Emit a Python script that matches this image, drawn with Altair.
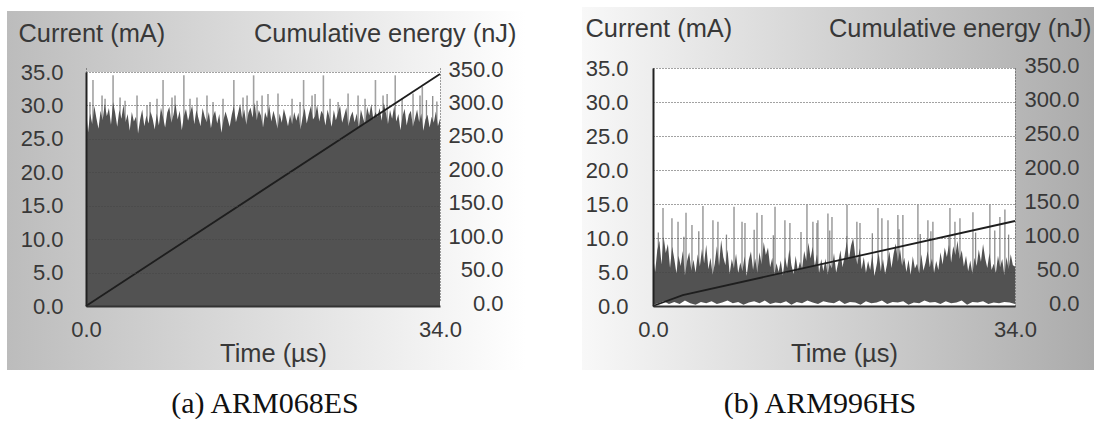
import altair as alt
import numpy as np
import pandas as pd

# ---------------- data ----------------
T_END = 34.0
current_ticks = [0, 5, 10, 15, 20, 25, 30, 35]
energy_ticks = [0, 50, 100, 150, 200, 250, 300, 350]
time_ticks = [0, 34]

# (a) ARM068ES : upper edge of the dense current trace (mA), 0.2 us apart
left_core = [
    29.5, 26.0, 28.8, 27.2, 29.9, 28.1, 26.5, 29.2, 27.8, 30.2,
    28.4, 29.6, 27.1, 30.5, 28.9, 26.8, 29.3, 28.0, 30.1, 27.5,
    28.7, 26.2, 29.0, 27.6, 28.3, 25.8, 27.9, 29.4, 26.9, 28.5,
    27.3, 29.1, 28.0, 26.4, 28.8, 27.0, 29.7, 28.2, 26.7, 28.9,
    29.8, 27.4, 28.6, 30.3, 27.9, 29.2, 26.3, 28.4, 29.5, 27.7,
    28.9, 30.0, 27.2, 29.3, 28.1, 26.9, 29.6, 28.3, 27.5, 29.0,
    26.6, 28.4, 29.2, 27.3, 28.7, 25.9, 27.8, 29.1, 28.0, 26.8,
    28.6, 29.9, 27.5, 28.8, 30.2, 28.0, 29.4, 27.1, 28.9, 29.7,
    28.2, 30.4, 27.8, 29.3, 28.5, 26.7, 29.0, 28.1, 30.0, 27.6,
    29.2, 28.0, 26.5, 28.8, 27.4, 29.5, 28.3, 26.9, 28.6, 27.2,
    29.0, 27.7, 28.9, 26.4, 28.2, 29.6, 27.3, 28.7, 29.9, 27.9,
    28.4, 30.1, 27.6, 29.2, 28.6, 27.0, 29.4, 28.1, 26.8, 29.3,
    27.8, 28.9, 30.0, 27.4, 28.5, 29.7, 26.9, 28.3, 29.1, 27.5,
    28.8, 26.6, 29.4, 28.2, 27.1, 29.8, 28.5, 30.2, 27.9, 29.0,
    28.3, 29.6, 27.7, 30.4, 28.9, 27.2, 29.3, 28.0, 29.9, 27.6,
    28.7, 26.3, 28.4, 29.5, 27.0, 28.6, 29.2, 26.8, 28.1, 29.4,
    27.5, 28.8, 26.2, 27.9, 28.6, 26.7, 28.3, 27.4, 29.1, 26.9,
    28.0,
]
left_tall_t = [0.67, 2.6, 7.4, 9.4, 14.2, 16.1, 20.9, 22.8, 27.8, 29.7, 32.3]
left_tall_h = [33.8, 34.5, 33.8, 34.5, 33.8, 34.5, 33.8, 34.5, 33.8, 34.5, 32.8]
left_mid_t = [0.38, 1.54, 1.83, 3.27, 3.75, 4.9, 5.86, 6.15, 6.82, 8.26, 8.55, 9.99,
              10.66, 11.62, 12.2, 13.16, 15.08, 15.47, 16.43, 16.91, 17.48, 18.44,
              19.79, 20.56, 21.71, 22.0, 23.44, 24.21, 25.17, 26.13, 26.8, 28.53,
              28.92, 30.36, 31.41, 32.08, 32.7, 33.3, 33.7]
left_mid_h = [30.5, 31.5, 31.0, 31.2, 30.7, 31.5, 30.0, 30.5, 31.0, 31.2, 31.5, 31.0,
              31.2, 31.5, 30.5, 31.0, 31.2, 31.5, 30.7, 31.5, 31.7, 31.8,
              31.0, 30.5, 31.5, 31.7, 31.0, 30.5, 31.8, 31.5, 31.0, 31.5,
              31.7, 31.0, 31.8, 31.5, 30.8, 31.4, 30.6]
left_energy_t = [0.0, 34.0]
left_energy_e = [0.0, 347.0]

# (b) ARM996HS
right_core = [
    7.5, 5.0, 8.2, 9.6, 6.1, 10.2, 7.8, 9.1, 5.6, 8.7,
    6.9, 4.8, 7.4, 5.9, 8.1, 4.5, 6.6, 7.9, 5.2, 6.8,
    4.9, 7.6, 5.8, 8.4, 6.3, 9.0, 5.4, 7.1, 4.6, 6.2,
    8.8, 5.9, 9.7, 7.2, 6.0, 8.3, 4.7, 6.9, 5.5, 7.7,
    4.8, 6.4, 5.1, 7.3, 4.4, 6.8, 8.0, 5.3, 7.0, 4.9,
    7.9, 6.1, 9.4, 7.5, 8.6, 5.7, 7.1, 4.6, 6.3, 5.0,
    6.7, 4.5, 7.2, 5.6, 8.3, 6.0, 4.7, 7.4, 5.2, 6.5,
    5.4, 8.1, 6.6, 9.3, 7.0, 8.7, 5.8, 7.6, 4.8, 6.9,
    5.1, 7.0, 4.6, 6.2, 5.5, 7.8, 4.9, 6.4, 8.2, 5.7,
    7.4, 9.5, 6.8, 8.9, 10.0, 7.3, 6.1, 8.5, 5.4, 7.2,
    4.9, 6.6, 5.3, 7.5, 4.4, 6.0, 7.8, 5.1, 6.9, 4.7,
    6.3, 8.0, 5.6, 7.7, 9.2, 6.5, 8.4, 5.9, 7.1, 5.0,
    6.8, 4.6, 7.3, 5.5, 6.2, 4.8, 7.6, 5.2, 6.4, 8.1,
    5.7, 7.0, 4.9, 6.6, 5.3, 7.9, 6.1, 8.6, 7.2, 9.0,
    6.4, 8.8, 7.5, 9.6, 6.9, 8.2, 5.8, 7.4, 5.1, 6.7,
    4.7, 7.1, 5.9, 8.3, 6.5, 9.1, 7.0, 5.6, 7.8, 5.3,
    6.2, 4.8, 7.4, 5.7, 6.9, 4.5, 7.2, 5.4, 7.6, 6.0,
    5.8,
]
right_floor = [
    0.2, 0.4, 0.7, 0.3, 0.6, 0.3, 0.8, 0.4, 0.2, 0.6, 0.4, 0.7, 0.3, 0.5,
    0.8, 0.4, 0.6, 0.2, 0.5, 0.7, 0.4, 0.8, 0.3, 0.5, 0.4, 0.7, 0.2, 0.6,
    0.4, 0.8, 0.5, 0.3, 0.7, 0.5, 0.4, 0.8, 0.3, 0.6, 0.5, 0.2, 0.7, 0.4,
    0.5, 0.8, 0.3, 0.6, 0.5, 0.7, 0.2, 0.5, 0.4, 0.8, 0.5, 0.6, 0.3, 0.7,
    0.4, 0.5, 0.8, 0.2, 0.6, 0.5, 0.7, 0.3, 0.5, 0.4, 0.6, 0.5, 0.3,
]
right_tall_t = [0.94, 4.69, 7.61, 11.46, 14.46, 18.22, 21.13, 24.88, 27.89, 31.64, 33.05]
right_tall_h = [14.4, 14.7, 14.6, 14.6, 14.9, 14.9, 14.4, 14.9, 14.4, 14.9, 14.2]
right_mid_t = [1.78, 2.35, 3.1, 3.66, 5.63, 6.1, 8.36, 8.64, 9.77, 10.23, 12.39, 12.86,
               15.02, 15.4, 15.49, 16.43, 16.81, 19.15, 19.44, 21.5, 22.07, 23.0,
               23.47, 25.82, 26.29, 28.36, 28.83, 30.05, 32.58,
               0.5, 2.9, 4.3, 6.9, 9.5, 11.3, 13.9, 16.6, 18.2, 20.6, 23.1,
               25.1, 26.1, 27.8, 30.3, 32.1, 33.4]
right_mid_h = [12.9, 12.4, 13.7, 11.9, 12.6, 12.4, 12.4, 12.2, 13.7, 13.4, 12.6, 12.2,
               12.4, 12.2, 12.6, 13.6, 13.1, 12.4, 12.2, 12.9, 12.6, 13.4,
               13.4, 12.6, 12.4, 12.4, 12.9, 13.8, 13.1,
               10.8, 10.2, 11.0, 10.5, 11.2, 10.4, 10.9, 11.1, 10.3, 10.7, 11.3,
               10.6, 11.0, 10.2, 10.8, 11.1, 10.5]
right_energy_t = [0.0, 2.8, 34.0]
right_energy_e = [0.0, 16.0, 125.0]

# ---------------- styling ----------------
FONT = "Liberation Sans"
TXT = "#383838"
LBL = 22
TTL = 25.4
one = pd.DataFrame({"k": [0]})
H = 238  # common group height; panel (a) draws its scale 4 px lower


def grad(c0, c1):
    return alt.LinearGradient(
        gradient="linear", x1=0, x2=1, y1=0, y2=0,
        stops=[alt.GradientStop(color=c0, offset=0), alt.GradientStop(color=c1, offset=1)],
    )


def panel(core, floor, tall_t, tall_h, mid_t, mid_h, en_t, en_e,
          W, top_off, box_l, box_r, box_t, colors, caption, cap_x, cap_y,
          ctitle_y, etitle_x, epad, lpad):
    rng = [H, top_off]
    xaxis = alt.Axis(values=time_ticks, format=".1f", title="Time (µs)",
                     labelFont=FONT, labelFontSize=LBL, labelColor=TXT, labelPadding=13,
                     labelFlush=False,
                     titleFont=FONT, titleFontSize=TTL, titleFontWeight="normal",
                     titleColor=TXT, titleY=47, titleX=W / 2 + 10, titleBaseline="middle",
                     ticks=False, tickSize=0, grid=True, gridColor="#444",
                     gridDash=[1, 2], gridWidth=1, domainColor="#333",
                     domainWidth=2, zindex=1)
    xs = alt.Scale(domain=[0, T_END], nice=False, zero=False)
    X = alt.X("t:Q", scale=xs, axis=xaxis)
    cs = alt.Scale(domain=[0, 35], nice=False, range=rng)

    bg = alt.Chart(one).mark_rect(color=grad(*colors)).encode(
        x=alt.value(box_l), x2=alt.value(W + box_r),
        y=alt.value(box_t), y2=alt.value(H + 64))
    plot_bg = alt.Chart(one).mark_rect(color="white").encode(
        x=alt.value(0), x2=alt.value(W), y=alt.value(top_off), y2=alt.value(H))

    mid = pd.DataFrame({"t": mid_t, "i": mid_h})
    tall = pd.DataFrame({"t": tall_t, "i": tall_h})
    mid_l = alt.Chart(mid).mark_rule(color="#8c8c8c", strokeWidth=1.3).encode(
        x=X, y=alt.Y("i:Q", scale=cs, axis=None), y2=alt.datum(0))
    tall_l = alt.Chart(tall).mark_rule(color="#a2a2a2", strokeWidth=1.6).encode(
        x=X, y=alt.Y("i:Q", scale=cs, axis=None), y2=alt.datum(0))

    cdf = pd.DataFrame({"t": np.linspace(0, T_END, len(core)), "i": core})
    yaxis = alt.Axis(values=current_ticks, format=".1f", title="Current (mA)",
                     orient="left", labelFont=FONT, labelFontSize=LBL, labelColor=TXT,
                     labelPadding=lpad, titleFont=FONT, titleFontSize=TTL,
                     titleFontWeight="normal", titleColor=TXT, titleAngle=0,
                     titleAlign="left", titleBaseline="middle", titleX=-68,
                     titleY=ctitle_y,
                     ticks=False, tickSize=0, grid=True, gridColor="#444",
                     gridDash=[1, 2], gridWidth=1, domainColor="#222",
                     domainWidth=2, zindex=1)
    core_l = alt.Chart(cdf).mark_area(color="#525252", interpolate="linear").encode(
        x=X, y=alt.Y("i:Q", scale=cs, axis=yaxis))

    layers = [bg, plot_bg, tall_l, mid_l, core_l]
    if floor is not None:
        fdf = pd.DataFrame({"t": np.linspace(0, T_END, len(floor)), "i": floor})
        layers.append(alt.Chart(fdf).mark_area(color="white", interpolate="linear").encode(
            x=X, y=alt.Y("i:Q", scale=cs, axis=None)))

    edf = pd.DataFrame({"t": en_t, "e": en_e})
    eaxis = alt.Axis(values=energy_ticks, format=".1f", title="Cumulative energy (nJ)",
                     orient="right", labelFont=FONT, labelFontSize=LBL, labelColor=TXT,
                     labelAlign="right", labelPadding=epad, labelOffset=-3,
                     titleFont=FONT, titleFontSize=TTL, titleFontWeight="normal",
                     titleColor=TXT, titleAngle=0, titleAlign="right",
                     titleBaseline="middle", titleX=etitle_x, titleY=ctitle_y,
                     ticks=False, tickSize=0, grid=False, domain=False, zindex=1)
    en_l = alt.Chart(edf).mark_line(color="#1e1e1e", strokeWidth=1.8).encode(
        x=X, y=alt.Y("e:Q", scale=alt.Scale(domain=[0, 350], nice=False, range=rng),
                     axis=eaxis))
    layers.append(en_l)

    cap = alt.Chart(one).mark_text(text=caption, font="Liberation Serif", fontSize=30,
                                   color="#111", align="center", baseline="middle").encode(
        x=alt.value(cap_x), y=alt.value(cap_y))
    layers.append(cap)

    return alt.layer(*layers).resolve_scale(y="independent").properties(width=W, height=H)


left = panel(left_core, None, left_tall_t, left_tall_h, left_mid_t, left_mid_h,
             left_energy_t, left_energy_e, W=354, top_off=4, box_l=-79, box_r=85,
             box_t=-57, colors=("#bcbcbc", "#ffffff"), caption="(a) ARM068ES",
             cap_x=179, cap_y=336, ctitle_y=-35, etitle_x=76, epad=63, lpad=23)
right = panel(right_core, right_floor, right_tall_t, right_tall_h, right_mid_t, right_mid_h,
              right_energy_t, right_energy_e, W=362, top_off=0, box_l=-71, box_r=79,
              box_t=-61, colors=("#f8f8f8", "#ababab"), caption="(b) ARM996HS",
              cap_x=167, cap_y=336, ctitle_y=-40, etitle_x=76, epad=64, lpad=25)

chart = alt.hconcat(left, right, spacing=57).properties(
    padding={"left": 7, "top": 7, "right": 0, "bottom": 0},
    background="white",
).configure_view(stroke=None)

chart.save("out.html", embed_options={"renderer": "svg", "actions": False})
